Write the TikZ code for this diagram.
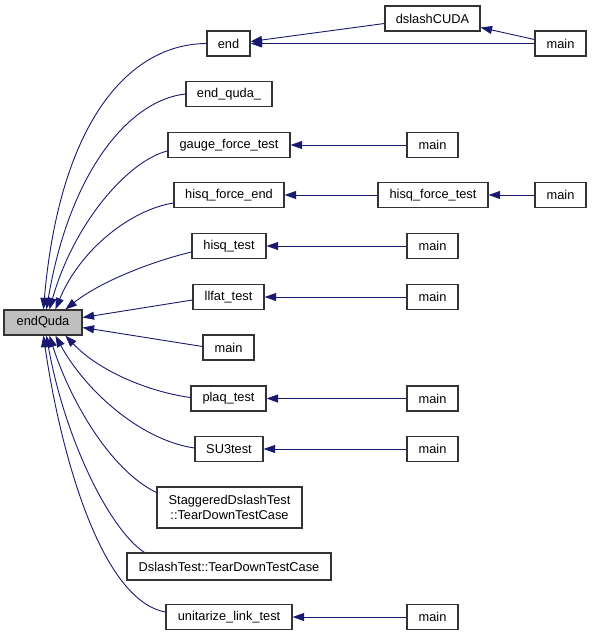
\documentclass[tikz,border=0pt]{standalone}
\usepackage{fontspec}
\setmainfont{Liberation Sans}
\usetikzlibrary{arrows.meta}
\definecolor{edgecol}{HTML}{191970}
\definecolor{boxgray}{HTML}{BFBFBF}
\begin{document}
\begin{tikzpicture}[x=1pt,y=-1pt,
  fn/.style={draw=black!80, line width=1.2pt, fill=white, minimum height=25pt, inner sep=0pt,
     font=\fontsize{12.8}{15}\selectfont, text=black},
  edge/.style={draw=edgecol, line width=0.9pt, -{Triangle[length=11.5pt,width=8pt]}}]
\useasboundingbox (0,0) rectangle (592,636);
% nodes
\node[fn, fill=boxgray, minimum width=78pt] (endQuda) at (43,322.5) {endQuda};
\node[fn, minimum width=43pt] (endn) at (228.5,43.5) {end};
\node[fn, minimum width=95pt] (dslashCUDA) at (432.5,18.5) {dslashCUDA};
\node[fn, minimum width=51pt] (mainA) at (560.5,43.5) {main};
\node[fn, minimum width=86pt] (endquda) at (229,94) {end\_quda\_};
\node[fn, minimum width=122pt] (gft) at (229,145) {gauge\_force\_test};
\node[fn, minimum width=51pt] (mainB) at (432.5,145) {main};
\node[fn, minimum width=110pt] (hfe) at (229,195) {hisq\_force\_end};
\node[fn, minimum width=110pt] (hft) at (433,195) {hisq\_force\_test};
\node[fn, minimum width=51pt] (mainC) at (560.5,195) {main};
\node[fn, minimum width=74pt] (hisq) at (229,246) {hisq\_test};
\node[fn, minimum width=51pt] (mainD) at (432.5,246) {main};
\node[fn, minimum width=71pt] (llfat) at (228.5,297) {llfat\_test};
\node[fn, minimum width=51pt] (mainE) at (432.5,297) {main};
\node[fn, minimum width=51pt] (mainF) at (228.5,347.5) {main};
\node[fn, minimum width=75pt] (plaq) at (228.5,398.5) {plaq\_test};
\node[fn, minimum width=51pt] (mainG) at (432.5,398.5) {main};
\node[fn, minimum width=68pt] (su3) at (229,449) {SU3test};
\node[fn, minimum width=51pt] (mainH) at (432.5,449) {main};
\node[fn, minimum width=145pt, minimum height=41pt, align=center] (stag) at (229.5,507.5) {StaggeredDslashTest\\::TearDownTestCase};
\node[fn, minimum width=204pt, minimum height=27pt] (dslash) at (229,566.5) {DslashTest::TearDownTestCase};
\node[fn, minimum width=126pt] (unit) at (229,617) {unitarize\_link\_test};
\node[fn, minimum width=51pt] (mainI) at (432.5,617) {main};
% edges into endQuda
\draw[edge] (endn.west) .. controls (130,44) and (60,120) .. ([xshift=40pt]endQuda.north west);
\draw[edge] (endquda.west) .. controls (130,100) and (70,170) .. ([xshift=43pt]endQuda.north west);
\draw[edge] ([yshift=-6pt]gft.west) .. controls (130,160) and (75,220) .. ([xshift=46pt]endQuda.north west);
\draw[edge] ([yshift=-8pt]hfe.west) .. controls (130,210) and (80,250) .. ([xshift=52pt]endQuda.north west);
\draw[edge] ([yshift=-6pt]hisq.west) .. controls (150,262) and (100,282) .. ([xshift=62pt]endQuda.north west);
\draw[edge] ([yshift=-3pt]llfat.west) -- ([yshift=5pt]endQuda.east);
\draw[edge] ([yshift=1pt]mainF.west) -- ([yshift=-5pt]endQuda.east);
\draw[edge] ([yshift=1pt]plaq.west) .. controls (150,392) and (100,372) .. ([xshift=62pt]endQuda.south west);
\draw[edge] ([yshift=1pt]su3.west) .. controls (140,440) and (85,390) .. ([xshift=52pt]endQuda.south west);
\draw[edge] ([yshift=15pt]stag.west) .. controls (110,470) and (70,400) .. ([xshift=46pt]endQuda.south west);
\draw[edge] ([xshift=18pt]dslash.north west) .. controls (110,530) and (65,440) .. ([xshift=43pt]endQuda.south west);
\draw[edge] ([yshift=5pt]unit.west) .. controls (100,600) and (60,450) .. ([xshift=40pt]endQuda.south west);
% other edges
\draw[edge] ([yshift=-5pt]dslashCUDA.west) -- ([yshift=2pt]endn.east);
\draw[edge] (mainA.west) -- (endn.east);
\draw[edge] ([yshift=4pt]mainA.west) -- ([yshift=-9pt]dslashCUDA.east);
\draw[edge] (mainB.west) -- (gft.east);
\draw[edge] (hft.west) -- (hfe.east);
\draw[edge] (mainC.west) -- (hft.east);
\draw[edge] (mainD.west) -- (hisq.east);
\draw[edge] (mainE.west) -- (llfat.east);
\draw[edge] (mainG.west) -- (plaq.east);
\draw[edge] (mainH.west) -- (su3.east);
\draw[edge] (mainI.west) -- (unit.east);
\end{tikzpicture}
\end{document}
